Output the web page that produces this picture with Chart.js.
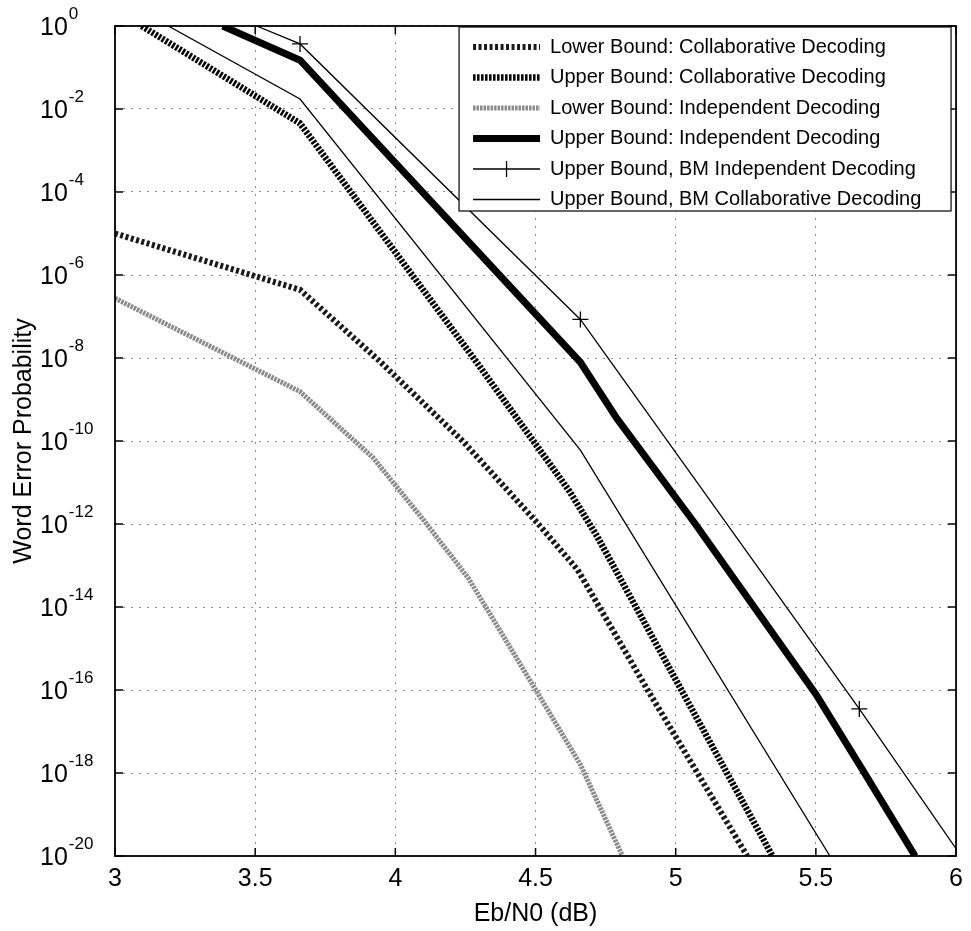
<!DOCTYPE html>
<html>
<head>
<meta charset="utf-8">
<title>Word Error Probability vs Eb/N0</title>
<script src="https://cdn.jsdelivr.net/npm/chart.js@4.4.1/dist/chart.umd.min.js"></script>
<style>
  html, body { margin: 0; padding: 0; background: #fff; }
  #wrap { width: 971px; height: 931px; }
</style>
</head>
<body>
<div id="wrap"><canvas id="wepChart" width="971" height="931"></canvas></div>
<script>
(function () {
  "use strict";

  var FONT = "'Liberation Sans', Arial, Helvetica, sans-serif";

  // axis ticks
  var xTickValues = [3, 3.5, 4, 4.5, 5, 5.5, 6];
  var yTickExponents = [0, -2, -4, -6, -8, -10, -12, -14, -16, -18, -20];

  var seriesNames = [
    "Lower Bound: Collaborative Decoding",
    "Upper Bound: Collaborative Decoding",
    "Lower Bound: Independent Decoding",
    "Upper Bound: Independent Decoding",
    "Upper Bound, BM Independent Decoding",
    "Upper Bound, BM Collaborative Decoding"
  ];

  // Eb/N0 (dB) / word error probability
  var lbCollabX = [3.0, 3.66, 3.94, 4.24, 4.51, 4.65, 4.9, 5.255];
  var lbCollabY = [1e-5, 4.4e-7, 8.9e-9, 1e-10, 1e-12, 7.9e-14, 1e-16, 1e-20];

  var ubCollabX = [3.095, 3.66, 4.29, 4.62, 4.72, 5.345];
  var ubCollabY = [1, 4.5e-3, 7.9e-9, 6.3e-12, 5e-13, 1e-20];

  var lbIndepX = [3.0, 3.66, 3.92, 4.1, 4.26, 4.51, 4.66, 4.81];
  var lbIndepY = [2.75e-7, 1.55e-9, 4e-11, 1.26e-12, 5e-14, 7.9e-17, 1.6e-18, 1e-20];

  var ubIndepX = [3.384, 3.66, 4.66, 4.79, 5.07, 5.5, 5.66, 5.854];
  var ubIndepY = [1, 0.15, 7.9e-9, 3.5e-10, 1e-12, 7.9e-17, 1.4e-18, 1e-20];

  var bmIndepX = [3.505, 3.66, 4.66, 5.655, 6.0];
  var bmIndepY = [1, 0.37, 8.5e-8, 3.5e-17, 1.5e-20];
  var bmIndepMarks = [0, 1, 1, 1, 0];

  var bmCollabX = [3.19, 3.66, 4.66, 5.55];
  var bmCollabY = [1, 1.74e-2, 6e-11, 1e-20];

  function pts(xs, ys) {
    return xs.map(function (x, i) { return { x: x, y: ys[i] }; });
  }

  var datasets = [
    {
      label: seriesNames[0],
      data: pts(lbCollabX, lbCollabY),
      borderColor: "#1a1a1a",
      borderWidth: 6,
      borderDash: [3, 2.5]
    },
    {
      label: seriesNames[1],
      data: pts(ubCollabX, ubCollabY),
      borderColor: "#000",
      borderWidth: 6.5,
      borderDash: [2.5, 1.5]
    },
    {
      label: seriesNames[2],
      data: pts(lbIndepX, lbIndepY),
      borderColor: "#8a8a8a",
      borderWidth: 5,
      borderDash: [2.5, 1]
    },
    {
      label: seriesNames[3],
      data: pts(ubIndepX, ubIndepY),
      borderColor: "#000",
      borderWidth: 7
    },
    {
      label: seriesNames[4],
      data: pts(bmIndepX, bmIndepY),
      borderColor: "#000",
      borderWidth: 1.3,
      pointStyle: "cross",
      pointRadius: bmIndepMarks.map(function (m) { return m ? 8 : 0; }),
      pointBorderWidth: 1.3,
      pointBorderColor: "#000"
    },
    {
      label: seriesNames[5],
      data: pts(bmCollabX, bmCollabY),
      borderColor: "#000",
      borderWidth: 1.3
    }
  ];

  datasets.forEach(function (ds) {
    ds.fill = false;
    ds.tension = 0;
    ds.clip = 0;
    if (ds.pointRadius === undefined) ds.pointRadius = 0;
    ds.pointHoverRadius = 0;
  });

  // MATLAB style box, inward ticks, 10^n labels and legend
  var matlabAxes = {
    id: "matlabAxes",
    afterDraw: function (chart) {
      var ctx = chart.ctx;
      var a = chart.chartArea;
      var xs = chart.scales.x;
      var ys = chart.scales.y;

      ctx.save();
      ctx.strokeStyle = "#000";
      ctx.lineWidth = 1.5;
      ctx.setLineDash([]);

      ctx.beginPath();
      xTickValues.forEach(function (v) {
        var px = xs.getPixelForValue(v);
        ctx.moveTo(px, a.bottom); ctx.lineTo(px, a.bottom - 8);
        ctx.moveTo(px, a.top); ctx.lineTo(px, a.top + 8);
      });
      yTickExponents.forEach(function (e) {
        var py = ys.getPixelForValue(Math.pow(10, e));
        ctx.moveTo(a.left, py); ctx.lineTo(a.left + 8, py);
        ctx.moveTo(a.right, py); ctx.lineTo(a.right - 8, py);
      });
      ctx.stroke();
      ctx.lineWidth = 1.8;
      ctx.strokeRect(a.left, a.top, a.right - a.left, a.bottom - a.top);

      // y tick labels as 10 with a raised exponent
      ctx.fillStyle = "#000";
      ctx.textBaseline = "middle";
      ctx.textAlign = "left";
      yTickExponents.forEach(function (e) {
        var py = ys.getPixelForValue(Math.pow(10, e));
        ctx.font = "25px " + FONT;
        ctx.fillText("10", 40, py + 2);
        var w = ctx.measureText("10").width;
        ctx.font = "17px " + FONT;
        ctx.fillText(String(e), 40 + w + 1, py - 12);
      });

      // legend
      var bx = a.right - 497, by = a.top + 1, bw = 492, bh = 184;
      ctx.fillStyle = "#fff";
      ctx.fillRect(bx, by, bw, bh);
      ctx.lineWidth = 1.2;
      ctx.strokeStyle = "#000";
      ctx.strokeRect(bx, by, bw, bh);

      ctx.font = "20px " + FONT;
      chart.data.datasets.forEach(function (ds, i) {
        var ry = by + 20 + i * 30.5;
        ctx.save();
        ctx.strokeStyle = ds.borderColor;
        ctx.lineWidth = ds.borderWidth;
        ctx.setLineDash(ds.borderDash || []);
        ctx.beginPath();
        ctx.moveTo(bx + 14, ry);
        ctx.lineTo(bx + 81, ry);
        ctx.stroke();
        if (ds.pointStyle === "cross") {
          ctx.setLineDash([]);
          ctx.lineWidth = ds.pointBorderWidth;
          ctx.beginPath();
          ctx.moveTo(bx + 47.5, ry - 8); ctx.lineTo(bx + 47.5, ry + 8);
          ctx.stroke();
        }
        ctx.restore();
        ctx.fillStyle = "#000";
        ctx.fillText(ds.label, bx + 91, ry);
      });
      ctx.restore();
    }
  };

  var canvas = document.getElementById("wepChart");
  var ctx = canvas.getContext("2d");

  new Chart(ctx, {
    type: "line",
    data: { datasets: datasets },
    plugins: [matlabAxes],
    options: {
      responsive: false,
      animation: false,
      devicePixelRatio: 1,
      events: [],
      layout: { padding: { top: 26, right: 12, left: 0, bottom: 0 } },
      plugins: {
        legend: { display: false },
        tooltip: { enabled: false }
      },
      scales: {
        x: {
          type: "linear",
          min: 3,
          max: 6,
          afterBuildTicks: function (scale) {
            scale.ticks = xTickValues.map(function (v) { return { value: v }; });
          },
          afterFit: function (scale) { scale.height = 75; },
          ticks: {
            autoSkip: false,
            maxRotation: 0,
            padding: 8,
            color: "#000",
            font: { family: FONT, size: 25 },
            callback: function (v) { return String(v); }
          },
          grid: { color: "#8c8c8c", lineWidth: 1, drawTicks: false },
          border: { display: false, dash: [2, 6] },
          title: {
            display: true,
            text: "Eb/N0 (dB)",
            color: "#000",
            font: { family: FONT, size: 25 },
            padding: { top: 0, bottom: 2 }
          }
        },
        y: {
          type: "logarithmic",
          min: 1e-20,
          max: 1,
          afterBuildTicks: function (scale) {
            scale.ticks = yTickExponents.map(function (e) { return { value: Math.pow(10, e) }; });
          },
          afterFit: function (scale) { scale.width = 115; },
          ticks: { display: false },
          grid: { color: "#8c8c8c", lineWidth: 1, drawTicks: false },
          border: { display: false, dash: [2, 6] },
          title: {
            display: true,
            text: "Word Error Probability",
            color: "#000",
            font: { family: FONT, size: 25 },
            padding: { top: 9, bottom: 0 }
          }
        }
      }
    }
  });
})();
</script>
</body>
</html>
